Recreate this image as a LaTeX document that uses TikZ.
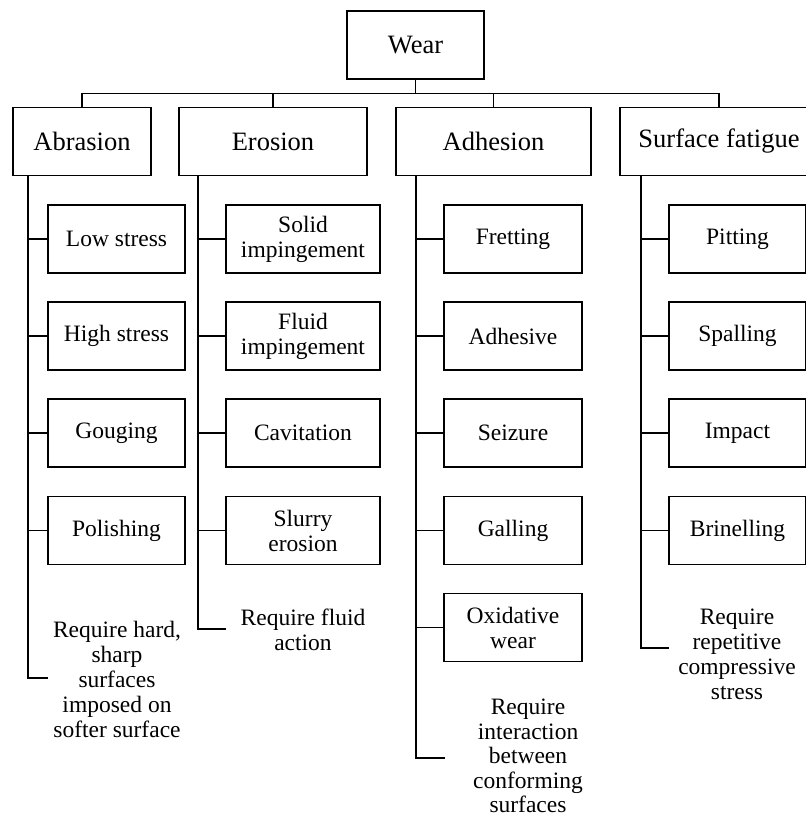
\documentclass[tikz,border=0pt]{standalone}
\usepackage{fontspec}
\setmainfont{Liberation Serif}
\begin{document}
\begin{tikzpicture}[x=1pt,y=-1pt, line width=1.5pt,
  every node/.style={inner sep=0pt, outer sep=0pt},
  topbox/.style={draw, minimum height=68pt, font=\fontsize{26.5}{28}\selectfont},
  cbox/.style={draw, minimum height=68pt, align=center, font=\fontsize{23.5}{25}\selectfont},
  note/.style={align=center, font=\fontsize{23.5}{25}\selectfont},
  link/.style={line width=1.3pt}]
\useasboundingbox (0,0) rectangle (806,820);
\clip (0,0) rectangle (806,820);

% top levels
\node[topbox, minimum width=137pt] (wear) at (415.5,45) {Wear};
\node[topbox, minimum width=138pt] (abr) at (82,141.5) {Abrasion};
\node[topbox, minimum width=188pt] (ero) at (273,141.5) {Erosion};
\node[topbox, minimum width=195pt] (adh) at (493.5,141.5) {Adhesion};
\node[topbox, minimum width=198pt] (sf) at (719,141.5) {Surface fatigue};

\coordinate (bar) at (0,93.5);
\draw[link] (wear.south) -- (wear.south |- bar);
\draw[link] (abr.north) -- (abr.north |- bar) -- (sf.north |- bar) -- (sf.north);
\draw[link] (ero.north) -- (ero.north |- bar);
\draw[link] (adh.north) -- (adh.north |- bar);

% Abrasion children
\node[cbox, minimum width=137pt] (a1) at (116.5,239) {Low stress};
\node[cbox, minimum width=137pt] (a2) at (116.5,336) {High stress};
\node[cbox, minimum width=137pt] (a3) at (116.5,433) {Gouging};
\node[cbox, minimum width=137pt] (a4) at (116.5,530.5) {Polishing};
\node[note] (an) at (117,679) {Require hard,\\sharp\\surfaces\\imposed on\\softer surface};

% Erosion children
\node[cbox, minimum width=154pt] (e1) at (303,239) {Solid\\impingement};
\node[cbox, minimum width=154pt] (e2) at (303,336) {Fluid\\impingement};
\node[cbox, minimum width=154pt] (e3) at (303,433) {Cavitation};
\node[cbox, minimum width=154pt] (e4) at (303,530.5) {Slurry\\erosion};
\node[note] (en) at (303,630) {Require fluid\\action};

% Adhesion children
\node[cbox, minimum width=138pt] (d1) at (513,239) {Fretting};
\node[cbox, minimum width=138pt] (d2) at (513,336) {Adhesive};
\node[cbox, minimum width=138pt] (d3) at (513,433) {Seizure};
\node[cbox, minimum width=138pt] (d4) at (513,530.5) {Galling};
\node[cbox, minimum width=138pt] (d5) at (513,627.5) {Oxidative\\wear};
\node[note, font=\fontsize{23.5}{24.5}\selectfont] (dn) at (528,756) {Require\\interaction\\between\\conforming\\surfaces};

% Surface fatigue children
\node[cbox, minimum width=137pt] (s1) at (737.5,239) {Pitting};
\node[cbox, minimum width=137pt] (s2) at (737.5,336) {Spalling};
\node[cbox, minimum width=137pt] (s3) at (737.5,433) {Impact};
\node[cbox, minimum width=137pt] (s4) at (737.5,530.5) {Brinelling};
\node[note] (sn) at (737,654) {Require\\repetitive\\compressive\\stress};

% stems
\coordinate (aE) at (28,678);   \coordinate (aN) at (48,678);
\coordinate (eE) at (198,629);  \coordinate (eN) at (226,629);
\coordinate (dE) at (416,758);  \coordinate (dN) at (445,758);
\coordinate (sE) at (641,648);  \coordinate (sN) at (669,648);

\draw[link] (abr.south -| aE) -- (aE) -- (aN);
\draw[link] (ero.south -| eE) -- (eE) -- (eN);
\draw[link] (adh.south -| dE) -- (dE) -- (dN);
\draw[link] (sf.south -| sE) -- (sE) -- (sN);

\foreach \n in {a1,a2,a3,a4} \draw[link] (aE |- \n.west) -- (\n.west);
\foreach \n in {e1,e2,e3,e4} \draw[link] (eE |- \n.west) -- (\n.west);
\foreach \n in {d1,d2,d3,d4,d5} \draw[link] (dE |- \n.west) -- (\n.west);
\foreach \n in {s1,s2,s3,s4} \draw[link] (sE |- \n.west) -- (\n.west);
\end{tikzpicture}
\end{document}
